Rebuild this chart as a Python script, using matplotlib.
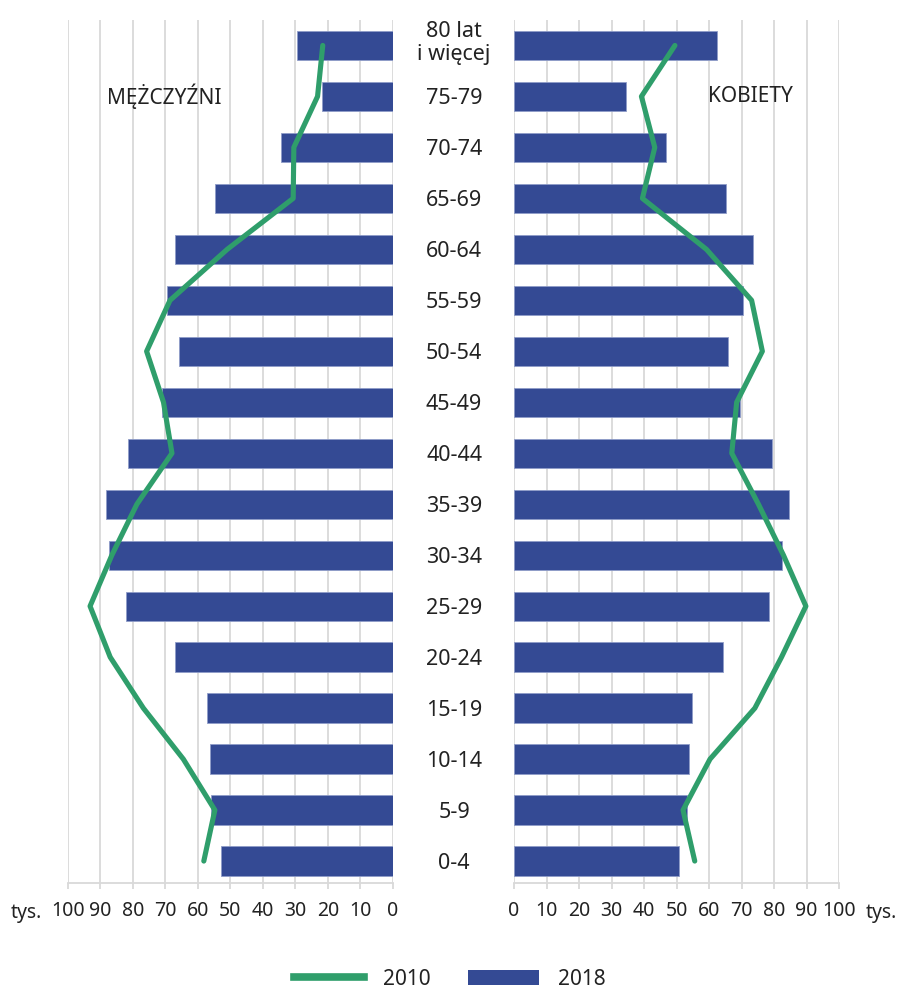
import matplotlib.pyplot as plt
import matplotlib.transforms as mtransforms
from matplotlib.lines import Line2D
from matplotlib.patches import Patch

plt.rcParams['font.family'] = ['Noto Sans', 'DejaVu Sans']

# age groups, bottom to top
groups = ['0-4', '5-9', '10-14', '15-19', '20-24', '25-29', '30-34', '35-39',
          '40-44', '45-49', '50-54', '55-59', '60-64', '65-69', '70-74', '75-79',
          '80 lat\ni więcej']

# thousands of people
men_2018 = [52.9, 56.0, 56.3, 57.2, 67.0, 82.2, 87.4, 88.3, 81.5, 71.0, 65.8,
            69.5, 67.0, 54.8, 34.5, 21.8, 29.5]
men_2010 = [58.2, 54.8, 64.5, 76.8, 87.0, 93.2, 86.5, 78.8, 68.0, 70.6, 75.8,
            68.6, 51.0, 30.7, 30.5, 23.2, 21.6]
women_2018 = [50.8, 53.1, 53.7, 54.8, 64.4, 78.3, 82.4, 84.7, 79.3, 69.5, 65.9,
              70.5, 73.4, 65.1, 46.8, 34.5, 62.6]
women_2010 = [55.6, 52.0, 60.3, 74.1, 82.3, 89.8, 82.9, 75.2, 67.0, 68.5, 76.4,
              73.1, 59.2, 39.5, 43.3, 39.2, 49.5]

ticks = list(range(0, 101, 10))

blue = '#344a94'
green = '#2f9e6b'
grid = '#d9d9d9'
txt = '#222222'

fig = plt.figure(figsize=(8.99, 9.88), dpi=100)
ax_m = fig.add_axes([0.0756, 0.1063, 0.3615, 0.8735])
ax_w = fig.add_axes([0.5718, 0.1063, 0.3615, 0.8735])

y = list(range(len(groups)))

for ax, v18, v10 in [(ax_m, men_2018, men_2010), (ax_w, women_2018, women_2010)]:
    ax.barh(y, v18, height=0.575, color=blue, edgecolor='#8f9cc8', linewidth=0.6, zorder=2)
    ax.plot(v10, y, color=green, lw=3.7, solid_capstyle='round', zorder=3)
    ax.set_xlim(0, 100)
    ax.set_ylim(-0.43, 16.5)
    ax.set_xticks(ticks)
    ax.set_xticklabels([str(t) for t in ticks], fontsize=14, color=txt)
    ax.grid(axis='x', color=grid, lw=1.3, zorder=0)
    ax.set_axisbelow(True)
    for s in ['top', 'left', 'right']:
        ax.spines[s].set_visible(False)
    ax.spines['bottom'].set_color(grid)
    ax.spines['bottom'].set_linewidth(1.3)
    ax.tick_params(axis='x', length=4, color=grid, width=1.3, pad=9)

ax_m.invert_xaxis()
ax_w.set_yticks([])

# age labels in the middle
ax_m.set_yticks(y)
ax_m.yaxis.tick_right()
ax_m.set_yticklabels(groups, fontsize=15.5, color=txt, ha='center', linespacing=1.15)
ax_m.tick_params(axis='y', length=0, pad=44)
top_lab = ax_m.get_yticklabels()[-1]
top_lab.set_transform(top_lab.get_transform() +
                      mtransforms.ScaledTranslation(0, 0.06, fig.dpi_scale_trans))

ax_m.text(88, 15, 'MĘŻCZYŹNI', fontsize=15, color=txt, ha='left', va='center')
ax_w.text(59.7, 15, 'KOBIETY', fontsize=15, color=txt, ha='left', va='center')

fig.text(0.012, 0.0755, 'tys.', fontsize=14, color=txt, ha='left', va='center')
fig.text(0.998, 0.0755, 'tys.', fontsize=14, color=txt, ha='right', va='center')

handles = [Line2D([0], [0], color=green, lw=5.5),
           Patch(facecolor=blue)]
fig.legend(handles, ['2010', '2018'], loc='center', bbox_to_anchor=(0.5, 0.009),
           ncol=2, frameon=False, fontsize=15, handlelength=3.4, handleheight=0.7,
           handletextpad=0.9, columnspacing=1.8, labelcolor=txt)

fig.savefig('out.png', dpi=100)
